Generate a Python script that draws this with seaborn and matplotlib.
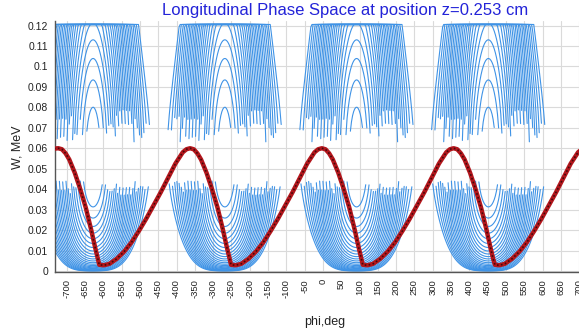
import numpy as np
import pandas as pd
import matplotlib
matplotlib.use("Agg")
import matplotlib.pyplot as plt
from matplotlib.ticker import FuncFormatter
import seaborn as sns

# ---------------- data ----------------
title_text = "Longitudinal Phase Space at position z=0.253 cm"
x_label = "phi,deg"
y_label = "W, MeV"

x_tick_values = [-700, -650, -600, -550, -500, -450, -400, -350, -300, -250, -200,
                 -150, -100, -50, 0, 50, 100, 150, 200, 250, 300, 350, 400, 450,
                 500, 550, 600, 650, 700]
y_tick_values = [0, 0.01, 0.02, 0.03, 0.04, 0.05, 0.06, 0.07, 0.08, 0.09, 0.10, 0.11, 0.12]

# centres (deg) of the phase-space contour families
bucket_centres = [-628, -268, 92, 452]
# synchronous energy (MeV) where upper and lower families meet
sync_energy = 0.058
# Hamiltonian contour levels (upper peaks 0.080, 0.093, 0.104, 0.114 ... / lower minima 0.031, 0.025 ...)
contour_levels = [0.0034, 0.0080, 0.0126, 0.0172, 0.0218, 0.0264, 0.0310, 0.0356,
                  0.0402, 0.0448, 0.0494, 0.0540, 0.0586, 0.0632, 0.0678, 0.0724,
                  0.0770, 0.0816, 0.0862, 0.0908, 0.0954, 0.1000, 0.1046, 0.1092,
                  0.1138]
upper_cut = 0.063        # upper family not drawn below this energy
lower_cut = 0.045        # lower family not drawn above this energy
lowest_u_bottom = 0.033  # innermost visible lower curve has its bottom below this

# beam particles (phase, energy)
beam_phi = [-735, -723, -713, -703, -693, -678, -663, -648, -633, -623, -615, -611,
            -598, -583, -563, -543, -523, -503, -483, -463, -443, -423, -403, -383, -373,
            -363, -353, -343, -333, -318, -303, -288, -273, -263, -255, -251,
            -238, -223, -203, -183, -163, -143, -123, -103, -83, -63, -43, -23, -13,
            -3, 7, 17, 27, 42, 57, 72, 87, 97, 105, 109,
            122, 137, 157, 177, 197, 217, 237, 257, 277, 297, 317, 337, 347,
            357, 367, 377, 387, 402, 417, 432, 447, 457, 465, 470,
            482, 497, 517, 537, 557, 577, 597, 617, 637, 657, 677, 697, 707, 720]
beam_w = [0.0598, 0.0600, 0.0595, 0.0575, 0.0545, 0.0480, 0.0400, 0.0310, 0.0200, 0.0120, 0.0060, 0.0030,
          0.0028, 0.0035, 0.0060, 0.0095, 0.0140, 0.0195, 0.0255, 0.0320, 0.0385, 0.0455, 0.0525, 0.0580, 0.0595,
          0.0600, 0.0595, 0.0575, 0.0545, 0.0480, 0.0400, 0.0310, 0.0200, 0.0120, 0.0060, 0.0030,
          0.0028, 0.0035, 0.0060, 0.0095, 0.0140, 0.0195, 0.0255, 0.0320, 0.0385, 0.0455, 0.0525, 0.0580, 0.0595,
          0.0600, 0.0595, 0.0575, 0.0545, 0.0480, 0.0400, 0.0310, 0.0200, 0.0120, 0.0060, 0.0030,
          0.0028, 0.0035, 0.0060, 0.0095, 0.0140, 0.0195, 0.0255, 0.0320, 0.0385, 0.0455, 0.0525, 0.0580, 0.0595,
          0.0600, 0.0595, 0.0575, 0.0545, 0.0480, 0.0400, 0.0310, 0.0200, 0.0120, 0.0060, 0.0030,
          0.0028, 0.0035, 0.0060, 0.0095, 0.0140, 0.0195, 0.0255, 0.0320, 0.0385, 0.0455, 0.0525, 0.0580, 0.0595, 0.0600]

# ---------------- contour geometry (electron Hamiltonian) ----------------
m_e = 0.511


def momentum(w):
    return np.sqrt(w * w + 2 * m_e * w)


p_s = momentum(sync_energy)
beta_s = p_s / (m_e + sync_energy)


def ham(w):
    return (w - sync_energy) / beta_s - (momentum(w) - p_s)


w_low = np.linspace(0.0, sync_energy, 3000)
w_high = np.linspace(sync_energy, 0.8, 6000)
g_low = ham(w_low)[::-1]
w_low_r = w_low[::-1]
g_high = ham(w_high)
two_a = ham(0.0)

phi_grid = np.arange(-741.0, 730.0, 3.0)
rows = []
unit = 0
for c in bucket_centres:
    psi = phi_grid - c
    inside = np.abs(psi) < 180
    for lev in contour_levels:
        target = lev - two_a * np.sin(np.radians(psi) / 2) ** 2
        ok = inside & (target >= 0)
        t = np.clip(target, 0, None)
        w_up = np.minimum(np.interp(t, g_high, w_high), 0.1205)
        w_dn = np.interp(t, g_low, w_low_r)
        branches = [(w_up, ok & (w_up >= upper_cut))]
        if np.interp(lev, g_low, w_low_r) <= lowest_u_bottom:
            branches.append((w_dn, ok & (w_dn <= lower_cut)))
        for w_branch, keep in branches:
            idx = np.where(keep)[0]
            if idx.size < 2:
                continue
            splits = np.where(np.diff(idx) > 1)[0] + 1
            for seg in np.split(idx, splits):
                if seg.size < 2:
                    continue
                for i in seg:
                    rows.append((unit, phi_grid[i], w_branch[i]))
                unit += 1

curves = pd.DataFrame(rows, columns=["unit", "phi", "W"])
beam = pd.DataFrame({"phi": beam_phi, "W": beam_w, "unit": 0})

# ---------------- figure ----------------
sns.set_theme(style="whitegrid")
plt.rcParams["font.family"] = ["Liberation Sans", "DejaVu Sans"]

W_PX, H_PX = 579, 333
fig = plt.figure(figsize=(W_PX / 100, H_PX / 100), dpi=100)
ax = fig.add_axes([55 / W_PX, (H_PX - 272) / H_PX, 545 / W_PX, 251 / H_PX])

sns.lineplot(data=curves, x="phi", y="W", units="unit", estimator=None, sort=False,
             color="#3f93e6", linewidth=0.8, ax=ax, zorder=2)
sns.lineplot(data=beam, x="phi", y="W", units="unit", estimator=None, sort=False,
             color="#b3161c", linewidth=3.2, ax=ax, zorder=3)
sns.lineplot(data=beam, x="phi", y="W", units="unit", estimator=None, sort=False,
             color="#2a0606", linewidth=1.2, ax=ax, zorder=4, alpha=0.8,
             dashes=False)
ax.lines[-1].set_dashes([1.0, 1.4])

ax.set_xlim(-732, 757)
ax.set_ylim(-0.0005, 0.1222)
ax.set_xticks(x_tick_values)
ax.set_yticks(y_tick_values)
ax.xaxis.set_major_formatter(FuncFormatter(lambda v, p: f"{v:g}"))
ax.yaxis.set_major_formatter(FuncFormatter(lambda v, p: f"{v:g}"))
ax.tick_params(axis="x", labelrotation=90, labelsize=6.8, colors="#222222", length=3, pad=2)
ax.tick_params(axis="y", labelsize=7.5, colors="#222222", length=3, pad=2)
ax.tick_params(axis="both", which="both", direction="out")
ax.xaxis.set_tick_params(color="#555555")
ax.yaxis.set_tick_params(color="#555555")

ax.set_facecolor("white")
ax.grid(True, color="#dadada", linewidth=0.8)
for s in ("top", "right"):
    ax.spines[s].set_visible(False)
for s in ("left", "bottom"):
    ax.spines[s].set_visible(True)
    ax.spines[s].set_color("#555555")
    ax.spines[s].set_linewidth(1.0)

ax.set_xlabel("")
ax.set_ylabel("")
fig.text(17 / W_PX, 1 - 147 / H_PX, y_label, rotation=90, ha="center", va="center",
         fontsize=9, color="#222222")
fig.text(325 / W_PX, 1 - 322 / H_PX, x_label, ha="center", va="center",
         fontsize=9, color="#222222")
fig.text(345 / W_PX, 1 - 10 / H_PX, title_text, ha="center", va="center",
         fontsize=12, color="#2323d8")

fig.savefig("out.png", dpi=100)
